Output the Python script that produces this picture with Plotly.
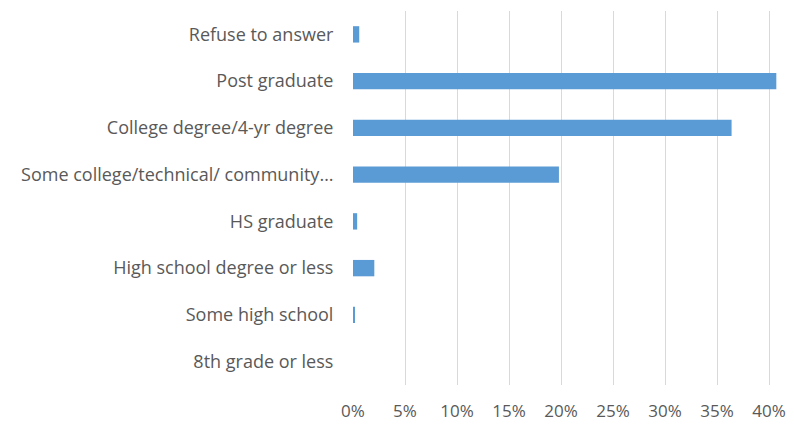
import plotly.graph_objects as go

categories = [
    "8th grade or less",
    "Some high school",
    "High school degree or less",
    "HS graduate",
    "Some college/technical/ community…",
    "College degree/4-yr degree",
    "Post graduate",
    "Refuse to answer",
]
values = [0.0, 0.001, 0.0205, 0.004, 0.198, 0.364, 0.407, 0.006]
tick_vals = [0, 0.05, 0.10, 0.15, 0.20, 0.25, 0.30, 0.35, 0.40]
tick_text = ["0%", "5%", "10%", "15%", "20%", "25%", "30%", "35%", "40%"]

FONT = "Open Sans"

fig = go.Figure(go.Bar(
    y=categories, x=values, orientation="h",
    marker=dict(color="#5B9BD5", line=dict(width=0)),
))
fig.update_layout(
    width=786, height=418,
    margin=dict(l=345, r=0, t=3, b=41),
    plot_bgcolor="white", paper_bgcolor="white",
    bargap=0.65,
    showlegend=False,
    font=dict(family=FONT, size=17, color="#595959"),
)
fig.update_xaxes(
    range=[0, 0.424], tickvals=tick_vals, ticktext=tick_text,
    showgrid=True, gridcolor="#D9D9D9", gridwidth=1,
    zeroline=False, showline=False,
    ticks="outside", ticklen=11, tickcolor="rgba(0,0,0,0)",
    tickfont=dict(family=FONT, size=17, color="#595959"),
)
fig.update_yaxes(
    categoryorder="array", categoryarray=categories,
    showgrid=False, zeroline=False, showline=False,
    ticks="outside", ticklen=15, tickcolor="rgba(0,0,0,0)",
    tickfont=dict(family=FONT, size=18, color="#595959"),
)
fig.write_html("out.html")
